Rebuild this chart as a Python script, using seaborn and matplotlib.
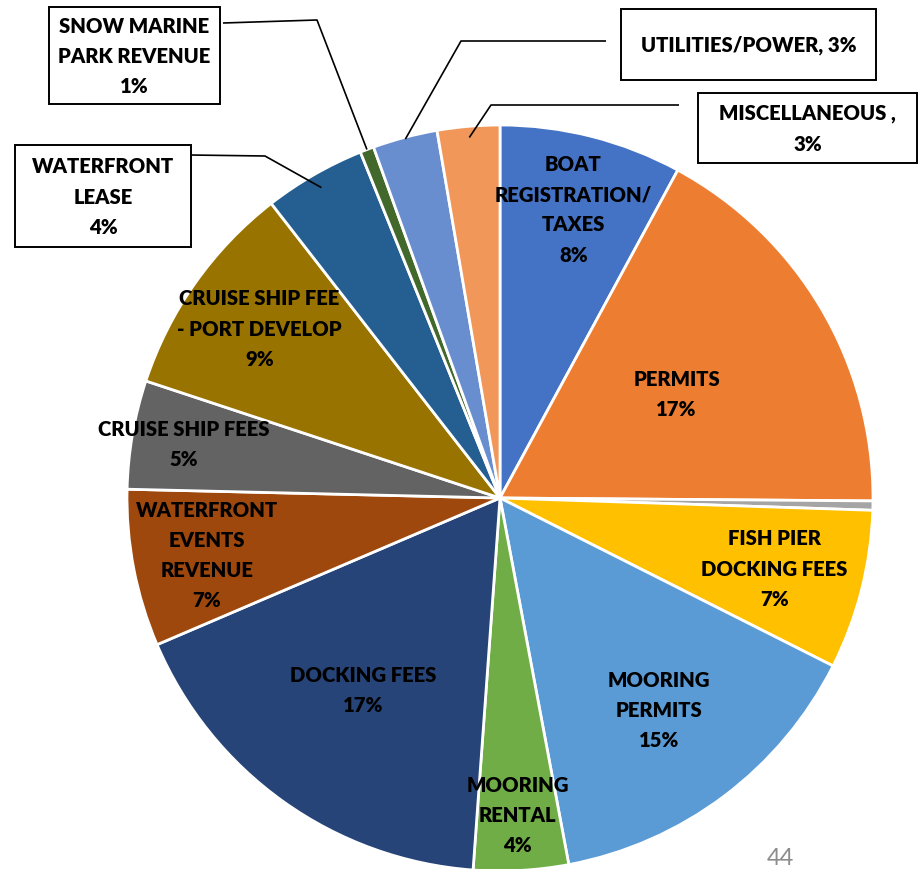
import numpy as np
import matplotlib
matplotlib.use("Agg")
import matplotlib.pyplot as plt
import seaborn as sns
from matplotlib.patches import Rectangle

# ---- data -------------------------------------------------------------
categories = [
    "BOAT REGISTRATION/TAXES", "PERMITS", "OTHER", "FISH PIER DOCKING FEES",
    "MOORING PERMITS", "MOORING RENTAL", "DOCKING FEES",
    "WATERFRONT EVENTS REVENUE", "CRUISE SHIP FEES",
    "CRUISE SHIP FEE - PORT DEVELOP", "WATERFRONT LEASE",
    "SNOW MARINE PARK REVENUE", "UTILITIES/POWER", "MISCELLANEOUS",
]
shares = [7.9, 17.2, 0.4, 6.9, 14.6, 4.1, 17.4, 6.8, 4.7, 9.4, 4.4, 0.6, 2.8, 2.7]
label_templates = [
    "BOAT\nREGISTRATION/\nTAXES\n{pct}",
    "PERMITS\n{pct}",
    None,
    "FISH PIER\nDOCKING FEES\n{pct}",
    "MOORING\nPERMITS\n{pct}",
    "MOORING\nRENTAL\n{pct}",
    "DOCKING FEES\n{pct}",
    "WATERFRONT\nEVENTS\nREVENUE\n{pct}",
    "CRUISE SHIP FEES\n{pct}",
    "CRUISE SHIP FEE\n- PORT DEVELOP\n{pct}",
    "WATERFRONT\nLEASE\n{pct}",
    "SNOW MARINE\nPARK REVENUE\n{pct}",
    "UTILITIES/POWER, {pct}",
    "MISCELLANEOUS ,\n{pct}",
]
page_number = "44"

# ---- style ------------------------------------------------------------
sns.set_theme(style="white")
plt.rcParams["font.family"] = ["Lato", "DejaVu Sans"]

palette = sns.color_palette([
    "#4472C4", "#ED7D31", "#A5A5A5", "#FFC000", "#5B9BD5", "#70AD47",
    "#264478", "#9E480E", "#636363", "#997300", "#255E91", "#43682B",
    "#698ED0", "#F1975A",
])

W, H = 920, 870
fig = plt.figure(figsize=(W / 100, H / 100), dpi=100)
ax = fig.add_axes([0, 0, 1, 1])


def py(y_top):
    """Convert a top-down pixel row into the axes' y coordinate."""
    return H - y_top


cx, cy, R = 500, py(499), 373
wedges, _ = ax.pie(
    shares, colors=palette, startangle=90, counterclock=False,
    center=(cx, cy), radius=R, frame=True,
    wedgeprops=dict(edgecolor="white", linewidth=2.0),
)
ax.set_xlim(0, W)
ax.set_ylim(0, H)
ax.set_aspect("equal")
ax.set_axis_off()

total = sum(shares)
labels = [None if t is None else t.format(pct=f"{100 * v / total:.0f}%")
          for t, v in zip(label_templates, shares)]


def wedge_point(i, frac):
    w = wedges[i]
    ang = np.deg2rad((w.theta1 + w.theta2) / 2)
    return cx + frac * R * np.cos(ang), cy + frac * R * np.sin(ang)


text_kw = dict(fontsize=14.6, fontweight="heavy", color="black",
               ha="center", va="center", multialignment="center",
               linespacing=1.7)

# labels drawn inside their slices (radial fraction along the mid-angle)
inside = {0: 0.80, 1: 0.55, 3: 0.76, 4: 0.71, 5: 0.85,
          6: 0.63, 7: 0.80, 8: 0.86, 9: 0.79}
for i, frac in inside.items():
    x, y = wedge_point(i, frac)
    ax.text(x, y, labels[i], **text_kw)

# callout boxes for the thin slices: box (left, top, width, height),
# leader start on the box side, elbow, and radial fraction of the tip
callouts = {
    10: ((15, 146, 176, 102), (190, 156), (265, 157), 0.96),
    11: ((49, 8, 171, 97), (223, 24), (317, 21), 1.0),
    12: ((621, 10, 255, 71), (606, 42), (461, 42), 0.995),
    13: ((698, 94, 219, 70), (679, 106), (491, 106), 0.97),
}
for i, (box, start, elbow, frac) in callouts.items():
    left, top, w, h = box
    ax.add_patch(Rectangle((left, py(top + h)), w, h, facecolor="white",
                           edgecolor="black", linewidth=1.4, zorder=3))
    ax.text(left + w / 2, py(top + h / 2), labels[i], zorder=4, **text_kw)
    tx, ty = wedge_point(i, frac)
    ax.plot([start[0], elbow[0], tx], [py(start[1]), py(elbow[1]), ty],
            color="black", linewidth=1.2, solid_capstyle="butt", zorder=2)

ax.text(780, py(869), page_number, fontsize=17, fontweight="normal",
        color="#8c8c8c", ha="center", va="bottom")

fig.savefig("out.png", dpi=100)
